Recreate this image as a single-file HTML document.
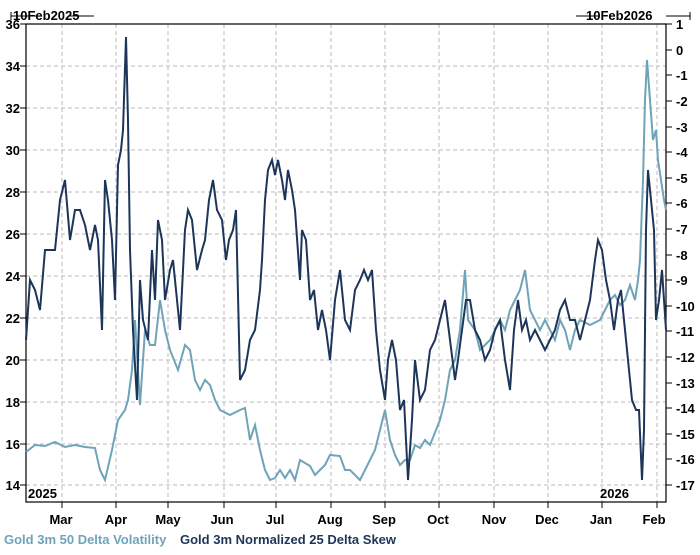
<!DOCTYPE html><html><head><style>body{margin:0;background:#fff}text{font-family:"Liberation Sans",Arial,sans-serif;font-weight:bold;font-size:13px}</style></head><body>
<svg width="700" height="550" xmlns="http://www.w3.org/2000/svg">
<rect width="700" height="550" fill="#fff"/>
<g stroke="#bbb" stroke-dasharray="4,3" stroke-width="1">
<path d="M62 24V502M116 24V502M168 24V502M224 24V502M276 24V502M331 24V502M385 24V502M439 24V502M494 24V502M548 24V502M602 24V502M657 24V502"/>
<path d="M26 66H666M26 108H666M26 150H666M26 192H666M26 234H666M26 276H666M26 318H666M26 360H666M26 402H666M26 444H666M26 485H666"/>
</g>
<rect x="26" y="24" width="640" height="478" fill="none" stroke="#000" stroke-width="1.2"/>
<polyline fill="none" stroke="#6fa4b8" stroke-width="2" points="26,452 35,445 45,446 55,442 65,447 75,445 85,447 95,448 100,470 105,480 112,450 118,420 125,410 128,400 132,370 135,320 140,405 145,330 150,345 155,345 160,300 165,330 170,350 178,370 185,345 190,350 195,380 200,390 205,380 210,385 215,400 220,410 230,415 240,410 245,408 250,440 255,425 260,450 265,470 270,480 275,478 280,470 285,478 290,470 295,480 300,460 310,466 315,475 325,465 330,455 340,456 345,470 350,470 360,480 365,470 375,450 380,430 385,410 390,440 395,455 400,465 405,460 410,460 415,445 420,448 425,440 430,445 440,420 445,400 450,370 455,360 460,330 465,270 468,320 475,330 480,350 490,340 495,330 500,320 505,330 510,310 515,300 520,290 525,270 530,310 540,330 545,320 550,330 555,340 560,320 565,330 570,350 575,330 580,320 590,325 600,320 605,310 610,300 615,295 620,305 625,300 630,285 635,300 638,280 640,260 643,180 645,100 647,60 650,100 653,140 656,130 658,160 661,180 664,200 666,210"/>
<polyline fill="none" stroke="#1d3559" stroke-width="2" points="26,340 30,280 35,290 40,310 45,250 55,250 60,200 65,180 70,240 75,210 80,210 85,225 90,250 95,225 98,240 102,330 105,180 108,200 112,240 115,300 118,165 121,150 123,130 126,37 128,120 130,250 133,330 137,400 140,280 143,320 148,340 152,250 155,300 158,220 162,240 165,300 170,270 173,260 177,300 180,330 185,230 188,210 192,220 197,270 202,250 205,240 209,200 213,180 217,210 222,220 226,260 229,240 233,230 236,210 240,380 245,370 250,340 255,330 260,290 262,260 265,200 268,170 272,160 275,175 278,160 282,180 285,200 288,170 292,190 295,210 300,280 302,230 306,240 310,300 314,290 318,330 322,310 326,330 330,360 335,300 340,270 345,320 350,330 355,290 360,280 364,270 368,280 372,270 376,330 380,370 385,400 388,360 392,340 396,360 400,410 404,400 408,480 412,420 415,360 420,400 425,390 430,350 435,340 440,320 445,300 450,340 455,380 458,360 462,330 466,300 470,300 475,330 480,340 485,360 490,350 495,330 500,320 505,360 510,390 514,330 518,300 522,330 526,320 530,340 535,330 540,340 545,350 550,340 555,330 560,310 565,300 570,320 575,320 580,340 585,320 590,300 595,260 598,240 602,250 606,280 610,300 614,330 618,300 621,290 624,320 628,360 632,400 636,410 639,410 642,480 644,430 646,230 648,170 651,200 654,230 656,320 659,300 662,270 664,300 666,330"/>
<g fill="#000" text-anchor="end">
<text x="20" y="29">36</text><text x="20" y="71">34</text><text x="20" y="113">32</text><text x="20" y="155">30</text><text x="20" y="197">28</text><text x="20" y="239">26</text><text x="20" y="281">24</text><text x="20" y="323">22</text><text x="20" y="365">20</text><text x="20" y="407">18</text><text x="20" y="449">16</text><text x="20" y="490">14</text>
</g>
<g stroke="#000"><path d="M20 24H26M20 66H26M20 108H26M20 150H26M20 192H26M20 234H26M20 276H26M20 318H26M20 360H26M20 402H26M20 444H26M20 485H26"/>
<path d="M666 24H672M666 50H672M666 75H672M666 101H672M666 127H672M666 152H672M666 178H672M666 203H672M666 229H672M666 255H672M666 280H672M666 306H672M666 331H672M666 357H672M666 383H672M666 408H672M666 434H672M666 459H672M666 485H672"/>
<path d="M62 502V508M116 502V508M168 502V508M224 502V508M276 502V508M331 502V508M385 502V508M439 502V508M494 502V508M548 502V508M602 502V508M657 502V508"/>
<path d="M11 16H36M11 12V20M70 16H94M600 16H576M690 16H666M690 12V20"/></g>
<g fill="#000" text-anchor="start" font-size="13">
<text x="676" y="29">1</text><text x="676" y="55">0</text><text x="676" y="80">-1</text><text x="676" y="106">-2</text><text x="676" y="132">-3</text><text x="676" y="157">-4</text><text x="676" y="183">-5</text><text x="676" y="208">-6</text><text x="676" y="234">-7</text><text x="676" y="260">-8</text><text x="676" y="285">-9</text><text x="676" y="311">-10</text><text x="676" y="336">-11</text><text x="676" y="362">-12</text><text x="676" y="388">-13</text><text x="676" y="413">-14</text><text x="676" y="439">-15</text><text x="676" y="464">-16</text><text x="676" y="490">-17</text>
</g>
<text x="13" y="20">10Feb2025</text><text x="586" y="20">10Feb2026</text>
<text x="28" y="498">2025</text><text x="600" y="498">2026</text>
<g text-anchor="middle" fill="#000"><text x="61" y="524">Mar</text><text x="116" y="524">Apr</text><text x="168" y="524">May</text><text x="222" y="524">Jun</text><text x="275" y="524">Jul</text><text x="330" y="524">Aug</text><text x="384" y="524">Sep</text><text x="438" y="524">Oct</text><text x="494" y="524">Nov</text><text x="547" y="524">Dec</text><text x="601" y="524">Jan</text><text x="654" y="524">Feb</text></g>
<text x="4" y="544" fill="#6fa4b8">Gold 3m 50 Delta Volatility</text>
<text x="180" y="544" fill="#1d3559">Gold 3m Normalized 25 Delta Skew</text>
</svg></body></html>
